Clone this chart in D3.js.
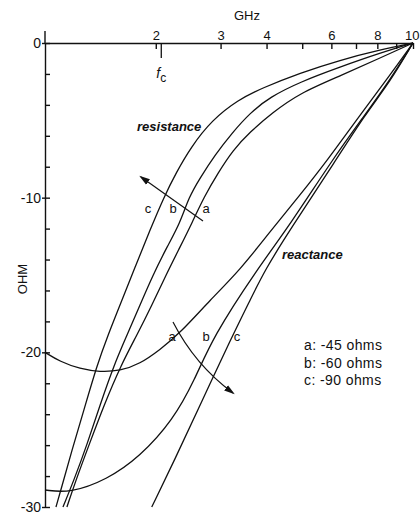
<!DOCTYPE html>
<html lang="en">
<head>
<meta charset="UTF-8">
<title>Resistance and reactance vs frequency</title>
<script src="https://d3js.org/d3.v7.min.js"></script>
<style>
  body { margin: 0; background: #fff; }
  svg text { font-family: "Liberation Sans", Arial, sans-serif; fill: #111; }
  .curve { fill: none; stroke: #111; stroke-width: 1.3; }
  .axis path, .axis line { stroke: #111; stroke-width: 1.4; }
  .axis text { font-size: 13px; }
  .note { font-size: 13px; font-style: italic; font-weight: bold; }
  .tag { font-size: 13px; }
  .legend { font-size: 14px; letter-spacing: 0.4px; }
</style>
</head>
<body>
<svg id="chart" width="420" height="515"></svg>
<script>
// frequency (GHz) vs ohms
const resistanceA = [[1.147,-30],[1.214,-28.25],[1.317,-25.99],[1.447,-23.4],[1.609,-20.82],[1.778,-18.88],[1.953,-16.94],[2.133,-14.99],[2.328,-13.19],[2.508,-11.64],[2.705,-9.95],[2.953,-8.4],[3.242,-6.92],[3.607,-5.75],[4.139,-4.52],[4.93,-3.23],[6.334,-2.13],[8.134,-0.97],[10,0]];
const resistanceB = [[1.119,-30],[1.199,-28.25],[1.30,-25.99],[1.411,-23.4],[1.54,-20.82],[1.671,-18.88],[1.812,-16.94],[1.966,-14.99],[2.145,-13.19],[2.328,-11.64],[2.462,-9.95],[2.638,-8.73],[2.897,-7.24],[3.222,-5.82],[3.607,-4.52],[4.087,-3.49],[4.93,-2.52],[6.334,-1.55],[8.134,-0.65],[10,0]];
const resistanceC = [[1.071,-30],[1.105,-28.89],[1.184,-26.31],[1.276,-23.72],[1.385,-20.82],[1.483,-18.88],[1.619,-16.61],[1.767,-14.35],[1.929,-12.09],[2.106,-9.95],[2.27,-8.4],[2.493,-6.72],[2.843,-4.98],[3.345,-3.68],[3.889,-2.91],[4.93,-1.94],[6.334,-1.1],[8.134,-0.45],[10,0]];
const reactanceA = [[1.0,-20.0],[1.098,-20.6],[1.245,-21.07],[1.41,-21.27],[1.60,-21.2],[1.81,-20.75],[2.05,-19.84],[2.33,-18.75],[2.81,-16.62],[3.39,-14.67],[4.08,-12.22],[4.93,-9.83],[5.86,-7.56],[7.18,-4.65],[8.66,-2.07],[10,0]];
const reactanceB = [[1.0,-28.9],[1.17,-29.1],[1.47,-28.25],[1.81,-26.76],[2.23,-24.37],[2.55,-21.8],[2.86,-19.0],[3.76,-14.67],[4.63,-11.76],[6.03,-7.56],[7.40,-4.65],[8.66,-2.39],[10,0]];
const reactanceC = [[1.95,-30],[2.25,-26.96],[2.64,-23.4],[3.22,-19.0],[3.61,-16.62],[3.96,-14.67],[4.63,-12.09],[6.18,-7.56],[7.40,-4.65],[8.66,-2.52],[10,0]];

const freqLabels = [2, 3, 4, 6, 8, 10];
const freqMinor = [5, 7, 9];
const ohmLabels = [0, -10, -20, -30];
const ohmTicks = [0, -2, -4, -6, -8, -10, -12, -14, -16, -18, -20, -22, -24, -26, -28, -30];
const legendLines = ["a: -45 ohms", "b: -60 ohms", "c: -90 ohms"];
const fc = 2.07;

const svg = d3.select("#chart");
const x = d3.scaleLog().domain([1, 10]).range([45, 413]);
const y = d3.scaleLinear().domain([0, -30]).range([43, 507]);

svg.append("defs").append("marker")
   .attr("id", "head")
   .attr("viewBox", "0 0 10 10")
   .attr("refX", 8).attr("refY", 5)
   .attr("markerWidth", 9).attr("markerHeight", 9)
   .attr("orient", "auto")
   .append("path")
   .attr("d", "M0,2 L10,5 L0,8 Z")
   .attr("fill", "#111");

// top axis: ticks hang below the line, labels sit above it
svg.append("g").attr("class", "axis")
   .attr("transform", `translate(0,${y(0)})`)
   .call(d3.axisBottom(x).tickValues(freqLabels.concat(freqMinor)).tickSize(6).tickSizeOuter(0).tickFormat(""));
svg.append("g").attr("class", "axis")
   .attr("transform", `translate(0,${y(0) - 1})`)
   .call(d3.axisTop(x).tickValues(freqLabels.slice(0, -1)).tickSize(0).tickPadding(2).tickFormat(d3.format("d")))
   .call(g => g.select(".domain").remove());
svg.append("text").attr("x", 405).attr("y", 40).style("font-size", "13px").text("10");
svg.append("line").attr("x1", x(1)).attr("x2", x(1)).attr("y1", 31).attr("y2", y(0))
   .attr("stroke", "#111").attr("stroke-width", 1.4);

// left axis
svg.append("g").attr("class", "axis")
   .attr("transform", `translate(${x(1)},0)`)
   .call(d3.axisRight(y).tickValues(ohmTicks).tickSize(5).tickSizeOuter(0).tickFormat(""));
svg.append("g").attr("class", "axis")
   .attr("transform", `translate(${x(1)},0)`)
   .call(d3.axisLeft(y).tickValues(ohmLabels).tickSize(3).tickPadding(1).tickFormat(d => String(d)))
   .call(g => g.select(".domain").remove())
   .selectAll("text").style("font-size", "14px");

svg.append("text").attr("x", 247).attr("y", 20).attr("text-anchor", "middle")
   .style("font-size", "13px").text("GHz");
svg.append("text").attr("transform", "translate(27,279) rotate(-90)").attr("text-anchor", "middle")
   .style("font-size", "13px").text("OHM");

// cutoff frequency
svg.append("line").attr("x1", x(fc)).attr("x2", x(fc)).attr("y1", y(0)).attr("y2", y(0) + 15)
   .attr("stroke", "#111").attr("stroke-width", 1.3);
const fcText = svg.append("text").attr("x", x(fc) - 5).attr("y", 78).style("font-size", "14px").style("font-style", "italic");
fcText.append("tspan").text("f");
fcText.append("tspan").attr("dy", 4).style("font-size", "12px").style("font-style", "normal").text("c");

const line = d3.line().x(d => x(d[0])).y(d => y(d[1])).curve(d3.curveBasis);
[resistanceA, resistanceB, resistanceC, reactanceA, reactanceB, reactanceC].forEach(s => {
  svg.append("path").attr("class", "curve").attr("d", line(s));
});

svg.append("text").attr("class", "note").attr("x", 137).attr("y", 131).text("resistance");
svg.append("text").attr("class", "note").attr("x", 282).attr("y", 259).text("reactance");

// direction arrows
svg.append("line").attr("x1", 203).attr("y1", 221).attr("x2", 141).attr("y2", 177)
   .attr("stroke", "#111").attr("stroke-width", 1.2).attr("marker-end", "url(#head)");
svg.append("path").attr("d", "M173,322 Q195,365 233,393").attr("fill", "none")
   .attr("stroke", "#111").attr("stroke-width", 1.2).attr("marker-end", "url(#head)");

[["c", 148, 213], ["b", 173, 213], ["a", 206, 213], ["a", 172, 341], ["b", 206, 341], ["c", 237, 341]].forEach(t => {
  svg.append("text").attr("class", "tag").attr("x", t[1]).attr("y", t[2]).attr("text-anchor", "middle").text(t[0]);
});

svg.selectAll(".legend").data(legendLines).enter().append("text")
   .attr("class", "legend").attr("x", 304).attr("y", (d, i) => 350 + i * 17.5).text(d => d);
</script>
</body>
</html>
